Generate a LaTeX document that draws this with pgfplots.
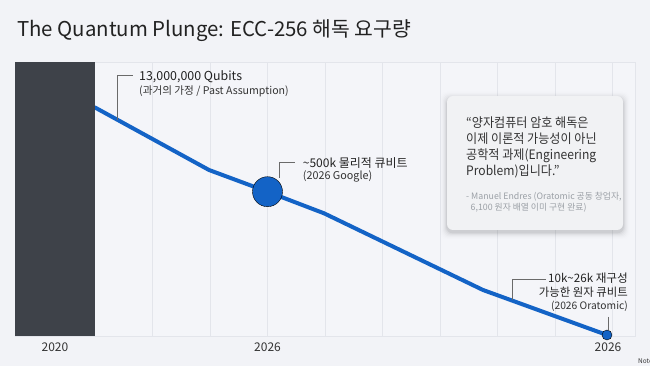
\documentclass[border=0pt]{standalone}
\usepackage{fontspec}
\setmainfont{Noto Sans CJK KR}
\newfontfamily\quotefont[FakeStretch=0.93]{Noto Sans CJK KR}
\usepackage{pgfplots}
\pgfplotsset{compat=1.18}
\definecolor{bg}{HTML}{F2F3F7}
\definecolor{plotbg}{HTML}{F4F5F9}
\definecolor{gridc}{HTML}{E3E5EB}
\definecolor{barc}{HTML}{3E4249}
\definecolor{linec}{HTML}{1363C6}
\definecolor{txt}{HTML}{222222}
\definecolor{txt2}{HTML}{333333}
\definecolor{leadc}{HTML}{6A6A6A}
\definecolor{quotebg}{HTML}{F1F2F4}
\definecolor{attr}{HTML}{9BA0A6}
\begin{document}
\begin{tikzpicture}[x=1pt,y=1pt]
\fill[bg] (0,0) rectangle (650,366);
\path[use as bounding box] (0,0) rectangle (650,366);
\begin{axis}[
  at={(15pt,30pt)}, anchor=south west,
  width=620pt, height=274pt, scale only axis,
  xmin=-1.3913, xmax=9.3913, ymin=0, ymax=274,
  clip=false,
  axis line style={draw=gridc, line width=0.6pt},
  axis background/.style={fill=plotbg},
  ytick=\empty,
  xtick={-0.6957,3,8.922},
  xticklabels={2020,2026,2026},
  major tick length=0pt,
  xticklabel style={font=\fontsize{12}{14}\selectfont, text=txt2, yshift=-3pt},
  extra x ticks={1,2,3,4,5,6,7,8,9},
  extra x tick labels={},
  extra x tick style={grid=major, major grid style={draw=gridc, line width=0.8pt}},
]
\addplot[linec, line width=4pt, line join=round, line cap=round, mark=none]
  coordinates {(0,228.5) (1.983,166) (3,144.3) (3.983,122.7) (6.748,46) (8.904,1)};
\addplot[fill=barc, draw=none]
  coordinates {(-1.3913,0) (-1.3913,274) (0,274) (0,0)};
\addplot[only marks, mark=*, mark size=15pt, mark options={fill=linec, draw=none}]
  coordinates {(3,144.3)};
\addplot[only marks, mark=*, mark size=5pt, mark options={fill=linec, draw=none}]
  coordinates {(8.904,1)};
\end{axis}
% title
\node[anchor=base west, inner sep=0, text=txt] at (17,329.5) {\fontsize{20.4}{24}\selectfont The Quantum Plunge: ECC-256 해독 요구량};
\begin{scope}[shift={(0,366)}, y=-1pt]
% annotation 1
\draw[leadc, line width=0.7pt] (117,120) -- (117,75.7) -- (133,75.7);
\node[anchor=base west, inner sep=0, text=txt] at (139,80.7) {\fontsize{12.4}{14}\selectfont 13,000,000 Qubits};
\node[anchor=base west, inner sep=0, text=txt2] at (139,94.3) {\fontsize{10.6}{12}\selectfont (과거의 가정 / Past Assumption)};
% annotation 2
\draw[leadc, line width=0.7pt] (279.3,178) -- (279.3,162.7) -- (295,162.7);
\node[anchor=base west, inner sep=0, text=txt] at (302.7,167.3) {\fontsize{12}{14}\selectfont \textasciitilde500k 물리적 큐비트};
\node[anchor=base west, inner sep=0, text=txt2] at (302.7,180) {\fontsize{10.8}{12}\selectfont (2026 Google)};
% annotation 3
\draw[leadc, line width=0.7pt] (512,300) -- (512,279) -- (546,279);
\draw[leadc, line width=0.7pt] (608,317) -- (608,330);
\node[anchor=base east, inner sep=0, text=txt] at (628,282.7) {\fontsize{11.6}{13}\selectfont 10k\textasciitilde26k 재구성};
\node[anchor=base east, inner sep=0, text=txt] at (628,296.7) {\fontsize{11.4}{13}\selectfont 가능한 원자 큐비트};
\node[anchor=base east, inner sep=0, text=txt2] at (628,310) {\fontsize{10.3}{12}\selectfont (2026 Oratomic)};
% quote box with soft shadow
\foreach \i/\o in {1/0.05,2/0.035,3/0.025,4/0.018,5/0.012,6/0.008,7/0.005} {
  \fill[black, opacity=\o, rounded corners=7pt] (447-\i,96-\i+2.5) rectangle (623+\i,230+\i+2.5);
}
\fill[quotebg, rounded corners=6pt] (447,96) rectangle (623,230);
\node[anchor=base west, inner sep=0, text=txt2] at (466,128) {\quotefont\fontsize{13}{16}\selectfont “양자컴퓨터 암호 해독은};
\node[anchor=base west, inner sep=0, text=txt2] at (466,144) {\quotefont\fontsize{13}{16}\selectfont 이제 이론적 가능성이 아닌};
\node[anchor=base west, inner sep=0, text=txt2] at (466,160) {\quotefont\fontsize{13}{16}\selectfont 공학적 과제(Engineering};
\node[anchor=base west, inner sep=0, text=txt2] at (466,176) {\quotefont\fontsize{13}{16}\selectfont Problem)입니다.”};
\node[anchor=base west, inner sep=0, text=attr] at (466,199.5)
  {\fontsize{8.8}{10}\selectfont - Manuel Endres (Oratomic 공동 창업자,};
\node[anchor=base west, inner sep=0, text=attr] at (470.5,210.5)
  {\fontsize{8.8}{10}\selectfont 6,100 원자 배열 이미 구현 완료)};
% watermark
\node[anchor=base west, inner sep=0, text=txt2] at (638,364) {\fontsize{6.5}{7}\selectfont Notebo};
\end{scope}
\end{tikzpicture}
\end{document}
